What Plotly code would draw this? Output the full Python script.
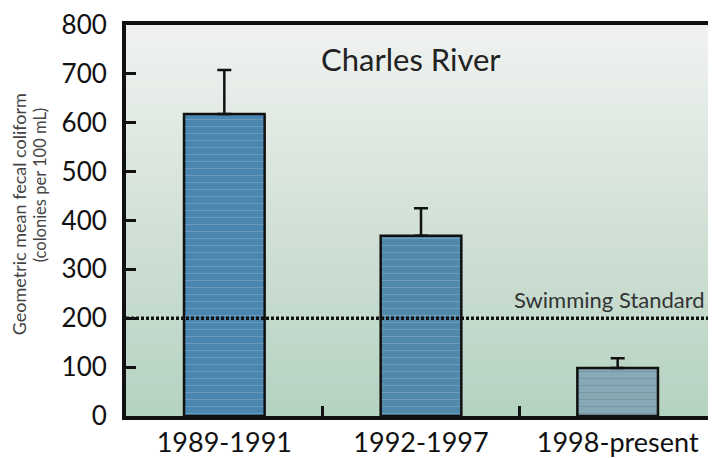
import plotly.graph_objects as go

# ---- data ----
periods = ["1989-1991", "1992-1997", "1998-present"]
geo_mean = [618, 369, 98]
err_plus = [90, 56, 20]
swim_standard = 200
y_ticks = [0, 100, 200, 300, 400, 500, 600, 700, 800]
bar_colors = ["#4a86b0", "#5189ab", "#86a9b5"]

fig = go.Figure()

fig.add_trace(go.Bar(
    x=[0, 1, 2], y=geo_mean, width=0.41,
    marker=dict(
        color=bar_colors,
        line=dict(color="#111", width=2.5),
        pattern=dict(shape="-", fgcolor="#2b4a66", fgopacity=0.25, size=7, solidity=0.1),
    ),
    error_y=dict(type="data", symmetric=False, array=err_plus,
                 arrayminus=[0, 0, 0], color="#111", thickness=2.5, width=7),
    showlegend=False, hoverinfo="skip",
))

# swimming standard line
fig.add_trace(go.Scatter(
    x=[-0.5, 2.5], y=[swim_standard, swim_standard], mode="lines",
    line=dict(color="#111", width=3.5, dash="3px,2px"),
    showlegend=False, hoverinfo="skip", cliponaxis=False,
))

# background gradient (decoration only)
top = (0xF0, 0xF2, 0xF0)
mid = (0xD2, 0xE1, 0xD7)
bot = (0xB5, 0xD3, 0xC1)
n = 60
shapes = []
for i in range(n):
    t = i / (n - 1)  # 0 bottom -> 1 top
    if t < 0.5:
        a, b, u = bot, mid, t / 0.5
    else:
        a, b, u = mid, top, (t - 0.5) / 0.5
    c = tuple(round(a[k] + (b[k] - a[k]) * u) for k in range(3))
    shapes.append(dict(type="rect", xref="paper", yref="paper",
                       x0=0, x1=1, y0=i / n, y1=(i + 1) / n + 0.002,
                       fillcolor="rgb(%d,%d,%d)" % c, line=dict(width=0), layer="below"))

# page body has an 8px margin, so the figure is 8px smaller than the window
fig.update_layout(
    width=708, height=450,
    margin=dict(l=118, r=0, t=9, b=40),
    paper_bgcolor="white", plot_bgcolor="#d2e1d7",
    shapes=shapes,
    font=dict(family="Lato, sans-serif", color="#111"),
)

fig.update_xaxes(
    range=[-0.5, 2.5], tickmode="array", tickvals=[0, 1, 2], ticktext=periods,
    ticks="", showgrid=False, zeroline=False,
    showline=True, linecolor="#111", linewidth=4, mirror=True,
    tickfont=dict(size=27, color="#111"),
    minor=dict(tickvals=[0.5, 1.5], ticks="inside", ticklen=10,
               tickwidth=3, tickcolor="#111", showgrid=False),
)

fig.update_yaxes(
    range=[0, 800], tickvals=y_ticks, ticks="inside", ticklen=10, tickwidth=3,
    tickcolor="#111", showgrid=False, zeroline=False,
    showline=True, linecolor="#111", linewidth=4,
    tickfont=dict(size=26, color="#111"), ticklabelstandoff=10,
    ticklabeloverflow="allow",
)

fig.add_annotation(
    text="Geometric mean fecal coliform",
    xref="paper", yref="paper", x=0, y=0.516, xanchor="center", yanchor="middle",
    xshift=-107, textangle=-90, showarrow=False,
    font=dict(size=18, color="#444"),
)
fig.add_annotation(
    text="(colonies per 100 mL)",
    xref="paper", yref="paper", x=0, y=0.59, xanchor="center", yanchor="middle",
    xshift=-86, textangle=-90, showarrow=False,
    font=dict(size=16.5, color="#444"),
)
fig.add_annotation(
    text="Charles River", xref="x", yref="paper", x=0.95, y=0.913,
    xanchor="center", yanchor="middle", showarrow=False,
    font=dict(size=31, color="#222"),
)
fig.add_annotation(
    text="Swimming Standard", xref="paper", yref="y", x=0.985, y=swim_standard,
    xanchor="right", yanchor="bottom", yshift=3, showarrow=False,
    font=dict(size=22, color="#333"),
)

fig.write_html("out.html")
